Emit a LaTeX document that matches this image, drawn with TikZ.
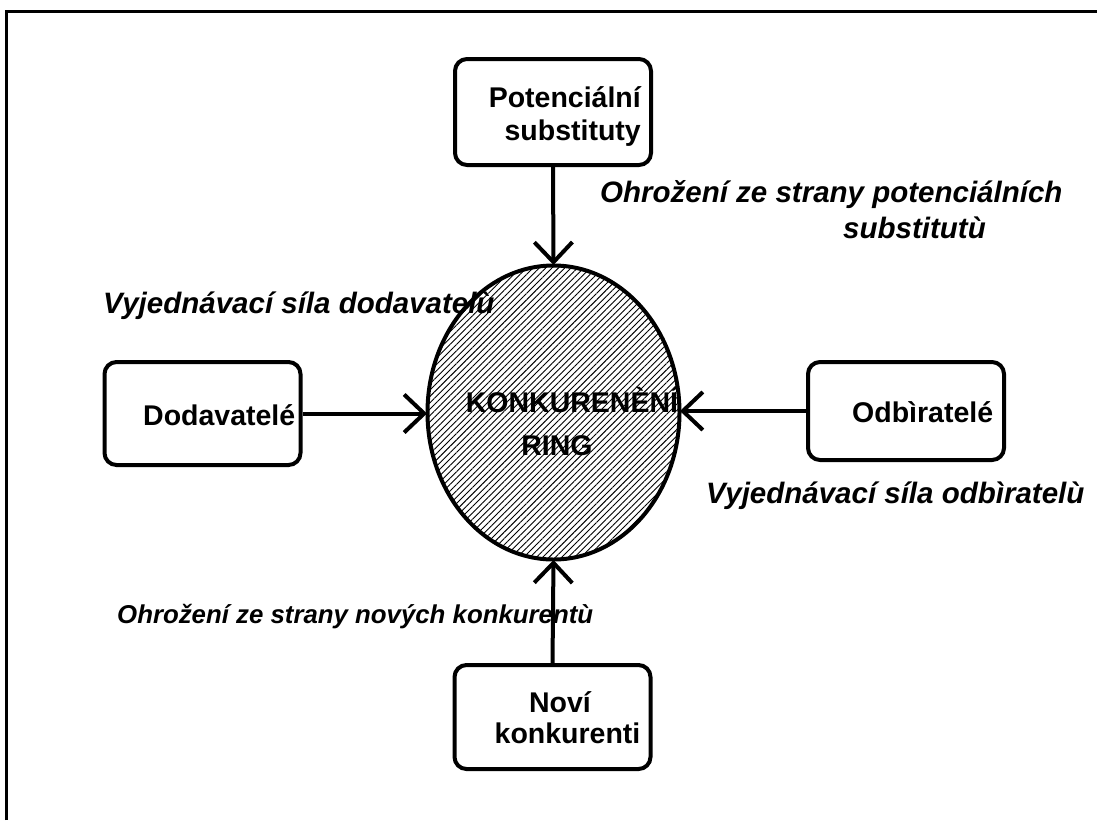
\documentclass[tikz,border=0pt]{standalone}
\usepackage{fontspec}
\setmainfont{Liberation Sans}
\usetikzlibrary{shapes.geometric,arrows.meta,patterns.meta}
\begin{document}
\begin{tikzpicture}[x=1pt,y=-1pt,
  box/.style={draw,line width=4pt,rounded corners=12pt,minimum width=196pt,inner sep=0pt},
  btext/.style={inner sep=0pt,font=\fontsize{28.5}{33}\selectfont\bfseries},
  arr/.style={line width=4pt,-{Straight Barb[length=20pt,width=38pt,line width=4pt]}},
  lab/.style={anchor=base west,inner sep=0pt,align=left,
    font=\fontsize{29.5}{36}\selectfont\bfseries\itshape}]
\useasboundingbox (0,0) rectangle (1097,820);
\draw[line width=2.5pt] (6.3,820) -- (6.3,11.3) -- (1097,11.3);
% central ellipse
\node[ellipse,draw,line width=4pt,minimum width=252pt,minimum height=294pt,inner sep=0pt,
  pattern={Lines[angle=45,distance=4.5pt,line width=0.9pt]}] (ring) at (553.5,412.5) {};
\node[btext,align=center,anchor=base,font=\fontsize{28.5}{43}\selectfont\bfseries] (ringtext) at (572,455)
  {KONKURENÈNÍ\\RING\hspace*{30pt}};
% boxes
\node[box,minimum height=106pt] (top) at (553,112) {};
\node[box,minimum height=103pt] (left) at (202.5,413.5) {};
\node[box,minimum height=98pt] (right) at (906,411) {};
\node[box,minimum height=104pt] (bottom) at (552.5,717) {};
\node[btext,align=right,anchor=base east] (topT) at (641,140) {Potenciální\\substituty};
\node[btext,anchor=base west] (leftT) at (143,425) {Dodavatelé};
\node[btext,anchor=base west] (rightT) at (852,422) {Odbìratelé};
\node[btext,align=center,anchor=base,font=\fontsize{28.5}{31}\selectfont\bfseries] (bottomT) at (567.5,743) {Noví\hspace*{15pt}\\konkurenti};
% arrows
\draw[arr] (top.south) -- (ring.north);
\draw[arr] (bottom.north) -- (ring.south);
\draw[arr] (left.east) -- (left.east -| ring.west);
\draw[arr] (right.west) -- (right.west -| ring.east);
% labels
\node[lab] (l1) at (600,238) {Ohrožení ze strany potenciálních\\\hspace*{243pt}substitutù};
\node[lab] (l2) at (103,313) {Vyjednávací síla dodavatelù};
\node[lab] (l3) at (706,503) {Vyjednávací síla odbìratelù};
\node[lab,font=\fontsize{25.8}{30}\selectfont\bfseries\itshape] (l4) at (117,623) {Ohrožení ze strany nových konkurentù};
\end{tikzpicture}
\end{document}
